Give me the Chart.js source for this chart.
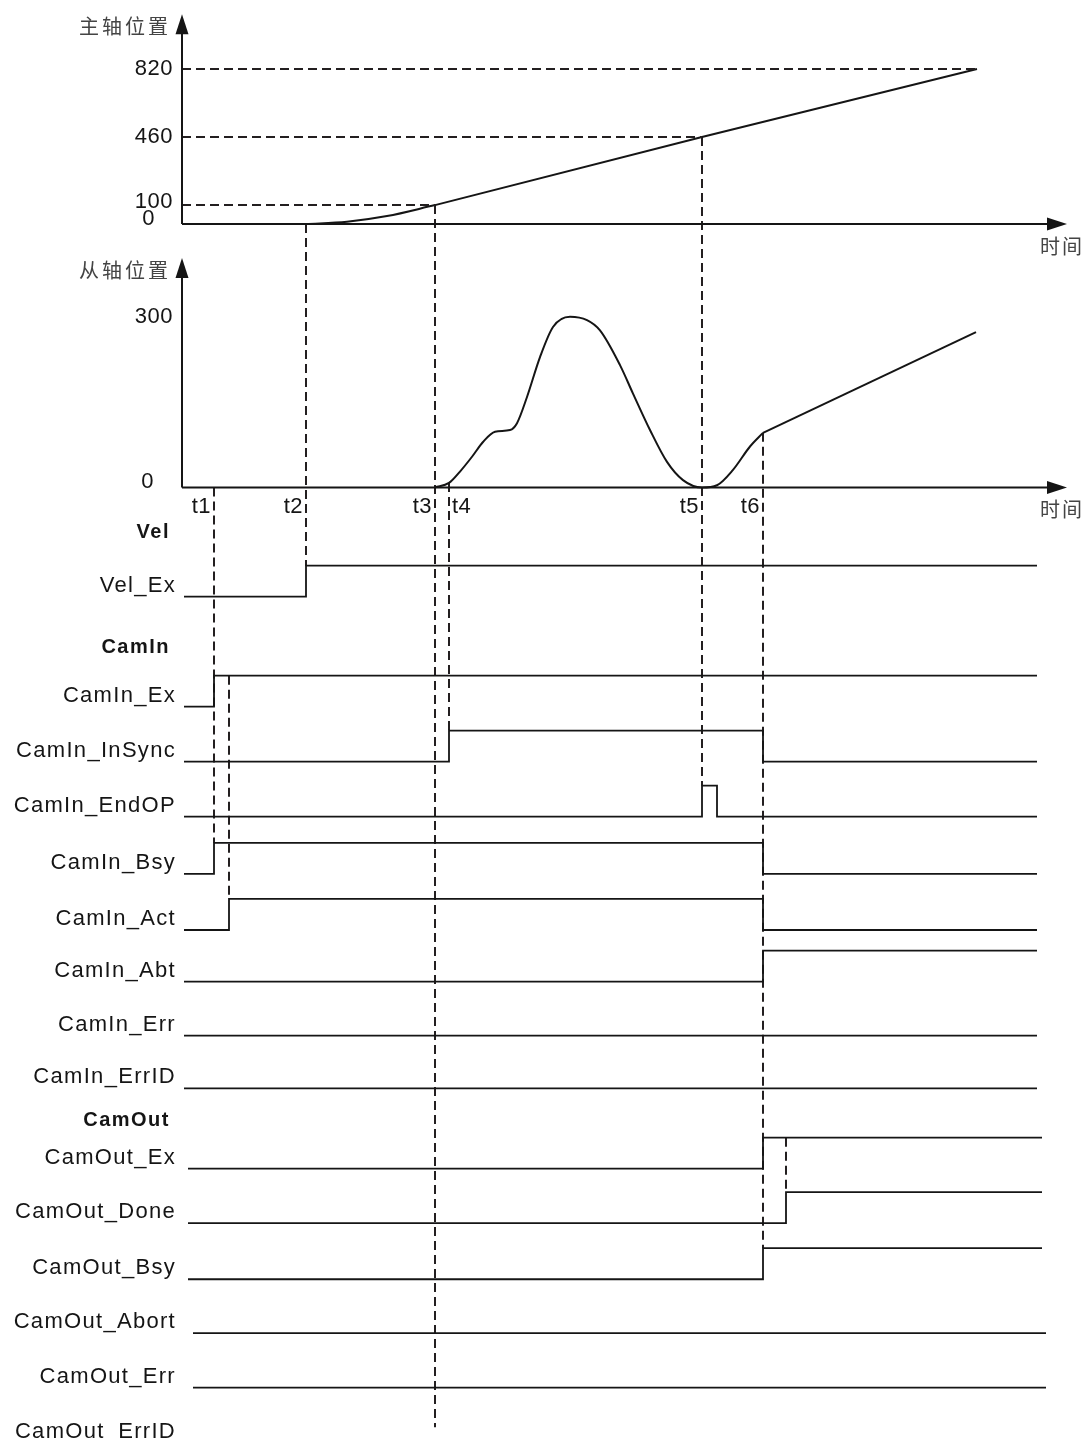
<!DOCTYPE html>
<html>
<head>
<meta charset="utf-8">
<script src="https://cdn.jsdelivr.net/npm/chart.js@4.4.0/dist/chart.umd.min.js"></script>
<style>
html, body { margin: 0; padding: 0; background: #fff; }
#wrap { position: relative; width: 1086px; height: 1438px; }
</style>
</head>
<body>
<div id="wrap"><canvas id="timing" width="1086" height="1438"></canvas></div>
<script>
// ---- 数据 ----
// 时刻（任意时间单位）
const timeMarks = ['t1', 't2', 't3', 't4', 't5', 't6'];
const timeValues = [3.2, 12.4, 25.3, 26.7, 52.0, 58.1];
const camInActOn = 4.7;
const endOpOff = 53.5;
const camOutDoneOn = 60.4;
const timeAxisEnd = 88.5;

// 主轴位置
const masterTicks = [820, 460, 100, 0];
const masterCurveT = [12.4, 16.5, 20.5, 25.3];
const masterCurvePos = [0, 12, 42, 100];
const masterLineT = [25.3, 52.0, 79.5];
const masterLinePos = [100, 460, 820];
const masterGuideEnds = [79.5, 52.0, 25.3]; // 820 / 460 / 100 虚线终点

// 从轴位置
const slaveTicks = [300, 0];
const slaveCurveT = [25.3, 26.7, 27.8, 29.0, 30.1, 31.3, 32.8, 33.5, 34.5, 35.8, 37.1, 38.8, 40.5, 41.8, 43.8, 45.1, 46.8, 48.5, 50.1, 52.0, 53.5, 55.1, 56.8, 58.1];
const slaveCurvePos = [0, 8, 28, 54, 80, 98, 101, 113, 159, 229, 282, 300, 294, 276, 215, 165, 101, 45, 13, 0, 4, 31, 72, 96];
const slaveLineT = [58.1, 79.4];
const slaveLinePos = [96, 273];

// 信号
const groupNames = ['Vel', 'CamIn', 'CamOut'];
const signalNames = ['Vel_Ex', 'CamIn_Ex', 'CamIn_InSync', 'CamIn_EndOP', 'CamIn_Bsy', 'CamIn_Act', 'CamIn_Abt', 'CamIn_Err', 'CamIn_ErrID',
  'CamOut_Ex', 'CamOut_Done', 'CamOut_Bsy', 'CamOut_Abort', 'CamOut_Err', 'CamOut_ErrID'];
const signalInit = [0, 0, 0, 0, 0, 0, 0, 0, 0, 0, 0, 0, 0, 0, 0];
const signalEdges = [
  [12.4],
  [3.2],
  [26.7, 58.1],
  [52.0, endOpOff],
  [3.2, 58.1],
  [camInActOn, 58.1],
  [58.1],
  [],
  [],
  [58.1],
  [camOutDoneOn],
  [58.1],
  [],
  [],
  []
];

// ---- 版面 ----
const groupLanes = [-1.16, 0.93, 9.53];
const signalLanes = [0, 2.0, 3.0, 4.0, 5.04, 6.06, 7.0, 7.98, 8.94, 10.4, 11.39, 12.41, 13.39, 14.38, 15.38];
const signalStart = [0.2, 0.2, 0.2, 0.2, 0.2, 0.2, 0.2, 0.2, 0.2, 0.6, 0.6, 0.6, 1.1, 1.1, 1.1];
const signalEnd = [85.5, 85.5, 85.5, 85.5, 85.5, 85.5, 85.5, 85.5, 85.5, 86.0, 86.0, 86.0, 86.4, 86.4, 86.4];
const HIGH = 0.565;
const W = 1086, H = 1438;
const INK = '#151515';
const FONT = '"Liberation Sans", Arial, sans-serif';
const CJK = '"Noto Sans CJK SC", sans-serif';

function lvlY(i, lvl) { return -signalLanes[i] + lvl * HIGH; }
function sigHigh(name) { return lvlY(signalNames.indexOf(name), 1); }

// 竖直虚线：时间，起点(轴, 值)，终点(轴, 值)
const guides = [
  { t: timeValues[0], from: ['yS', 0], to: ['yG', sigHigh('CamIn_Bsy')] },
  { t: camInActOn, from: ['yG', sigHigh('CamIn_Ex')], to: ['yG', sigHigh('CamIn_Act')] },
  { t: timeValues[1], from: ['yM', 0], to: ['yG', sigHigh('Vel_Ex')] },
  { t: timeValues[2], from: ['yM', 100], to: ['yG', -15.1] },
  { t: timeValues[3], from: ['yS', 8], to: ['yG', sigHigh('CamIn_InSync')] },
  { t: timeValues[4], from: ['yM', 460], to: ['yG', sigHigh('CamIn_EndOP')] },
  { t: timeValues[5], from: ['yS', 96], to: ['yG', sigHigh('CamOut_Bsy')] },
  { t: camOutDoneOn, from: ['yG', sigHigh('CamOut_Ex')], to: ['yG', sigHigh('CamOut_Done')] }
];

// 由两个锚点求刻度范围
function range(v0, p0, pxPerUnit, size) {
  return { min: v0 - (size - p0) / pxPerUnit, max: v0 + p0 / pxPerUnit };
}
const xr = { min: -182 / 10, max: (W - 182) / 10 };
const mr = range(0, 224, 155 / 820, H);
const sr = range(0, 487.5, 170.8 / 300, H);
const gr = range(0, 596.7, 55, H);

function line(points, yAxisID, extra) {
  return Object.assign({
    data: points, yAxisID: yAxisID, borderColor: INK, borderWidth: 2,
    pointRadius: 0, fill: false, tension: 0
  }, extra || {});
}

const datasets = [];
masterTicks.slice(0, 3).forEach((v, i) => {
  datasets.push(line([{ x: 0, y: v }, { x: masterGuideEnds[i], y: v }], 'yM', { borderDash: [9, 5], borderColor: '#231f20' }));
});
datasets.push(line(masterCurveT.map((t, i) => ({ x: t, y: masterCurvePos[i] })), 'yM', { cubicInterpolationMode: 'monotone' }));
datasets.push(line(masterLineT.map((t, i) => ({ x: t, y: masterLinePos[i] })), 'yM'));
datasets.push(line(slaveCurveT.map((t, i) => ({ x: t, y: slaveCurvePos[i] })), 'yS', { cubicInterpolationMode: 'monotone' }));
datasets.push(line(slaveLineT.map((t, i) => ({ x: t, y: slaveLinePos[i] })), 'yS'));

signalNames.forEach((name, i) => {
  let lvl = signalInit[i];
  const pts = [{ x: signalStart[i], y: lvlY(i, lvl) }];
  signalEdges[i].forEach(t => {
    pts.push({ x: t, y: lvlY(i, lvl) });
    lvl = 1 - lvl;
    pts.push({ x: t, y: lvlY(i, lvl) });
  });
  pts.push({ x: signalEnd[i], y: lvlY(i, lvl) });
  datasets.push(line(pts, 'yG', { borderWidth: 1.8 }));
});

const decor = {
  id: 'decor',
  beforeDatasetsDraw(chart) {
    const { ctx, scales } = chart;
    const x = scales.x;
    ctx.save();
    ctx.strokeStyle = '#231f20';
    ctx.lineWidth = 2;
    ctx.setLineDash([9, 5]);
    guides.forEach(g => {
      const px = x.getPixelForValue(g.t);
      ctx.beginPath();
      ctx.moveTo(px, scales[g.from[0]].getPixelForValue(g.from[1]));
      ctx.lineTo(px, scales[g.to[0]].getPixelForValue(g.to[1]));
      ctx.stroke();
    });
    ctx.restore();
  },
  afterDatasetsDraw(chart) {
    const { ctx, scales } = chart;
    const x = scales.x, yM = scales.yM, yS = scales.yS, yG = scales.yG;
    const x0 = x.getPixelForValue(0);
    const xEnd = x.getPixelForValue(timeAxisEnd);
    ctx.save();
    ctx.fillStyle = INK;
    ctx.strokeStyle = INK;
    ctx.lineWidth = 2;

    // 两组坐标轴和箭头
    [[yM, 1110, '主轴位置'], [yS, 403, '从轴位置']].forEach(([ys, top, title]) => {
      const base = ys.getPixelForValue(0);
      const tip = ys.getPixelForValue(top);
      ctx.beginPath();
      ctx.moveTo(x0, base); ctx.lineTo(x0, tip + 18);
      ctx.moveTo(x0, base); ctx.lineTo(xEnd - 18, base);
      ctx.stroke();
      ctx.beginPath();
      ctx.moveTo(x0, tip); ctx.lineTo(x0 - 6.5, tip + 20); ctx.lineTo(x0 + 6.5, tip + 20); ctx.closePath();
      ctx.fill();
      ctx.beginPath();
      ctx.moveTo(xEnd, base); ctx.lineTo(xEnd - 20, base - 6.5); ctx.lineTo(xEnd - 20, base + 6.5); ctx.closePath();
      ctx.fill();
      ctx.fillStyle = '#444';
      ctx.font = '20px ' + CJK;
      ctx.letterSpacing = '3px';
      ctx.textBaseline = 'middle';
      ctx.textAlign = 'right';
      ctx.fillText(title, x0 - 11, tip + 12);
      ctx.textAlign = 'left';
      ctx.letterSpacing = '2px';
      ctx.fillText('时间', xEnd - 27, base + 22);
      ctx.fillStyle = INK;
    });

    // 刻度文字
    ctx.font = '22px ' + FONT;
    ctx.letterSpacing = '0.5px';
    ctx.textBaseline = 'middle';
    ctx.textAlign = 'right';
    masterTicks.forEach(v => {
      const py = yM.getPixelForValue(v);
      if (v === 0) ctx.fillText('0', x0 - 27, py - 5);
      else ctx.fillText(String(v), x0 - 9, v === 100 ? py - 3 : py);
    });
    slaveTicks.forEach(v => {
      const py = yS.getPixelForValue(v);
      if (v === 0) ctx.fillText('0', x0 - 28, py - 6);
      else ctx.fillText(String(v), x0 - 9, py);
    });

    // t1..t6
    const tY = yS.getPixelForValue(0) + 19;
    timeMarks.forEach((m, i) => {
      const px = x.getPixelForValue(timeValues[i]);
      if (m === 't4') { ctx.textAlign = 'left'; ctx.fillText(m, px + 3, tY); }
      else { ctx.textAlign = 'right'; ctx.fillText(m, px - 3, tY); }
    });

    // 信号名称
    ctx.textAlign = 'right';
    ctx.letterSpacing = '1.3px';
    signalNames.forEach((name, i) => {
      ctx.fillText(name, x0 - 6, yG.getPixelForValue(-signalLanes[i] + 0.2));
    });
    ctx.font = 'bold 20px ' + FONT;
    ctx.letterSpacing = '1.5px';
    groupNames.forEach((name, i) => {
      ctx.fillText(name, x0 - 12, yG.getPixelForValue(-groupLanes[i]));
    });
    ctx.restore();
  }
};

new Chart(document.getElementById('timing').getContext('2d'), {
  type: 'line',
  data: { datasets: datasets },
  options: {
    responsive: false,
    animation: false,
    devicePixelRatio: 1,
    layout: { padding: 0 },
    plugins: { legend: { display: false }, tooltip: { enabled: false } },
    elements: { line: { borderCapStyle: 'butt', borderJoinStyle: 'miter' } },
    scales: {
      x: { type: 'linear', display: false, min: xr.min, max: xr.max },
      yM: { type: 'linear', display: false, min: mr.min, max: mr.max },
      yS: { type: 'linear', display: false, min: sr.min, max: sr.max },
      yG: { type: 'linear', display: false, min: gr.min, max: gr.max }
    }
  },
  plugins: [decor]
});
</script>
</body>
</html>
